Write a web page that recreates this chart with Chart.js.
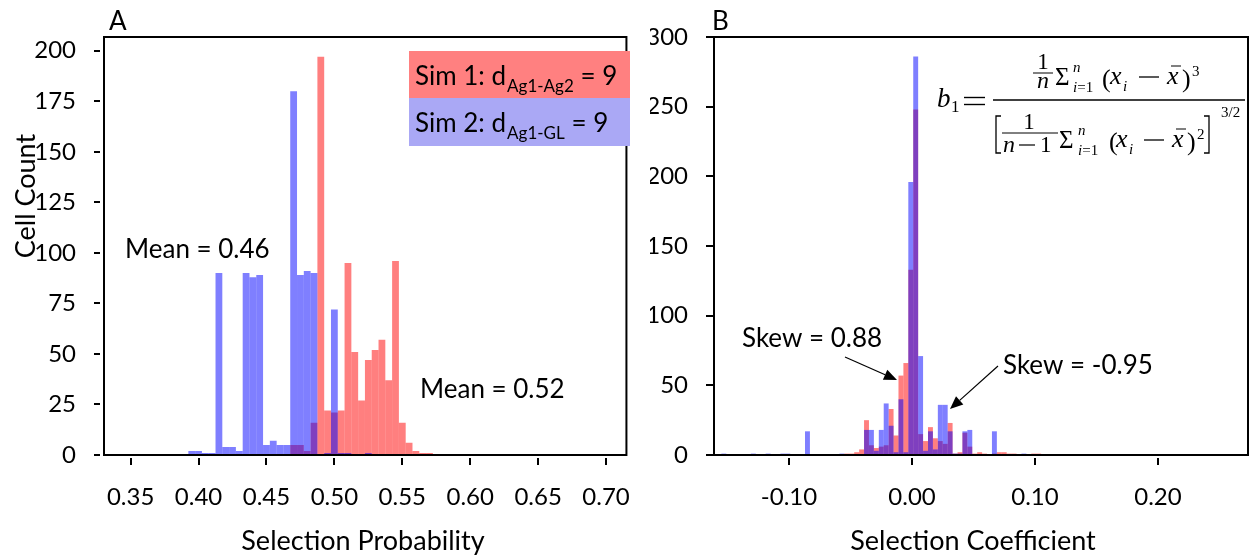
<!DOCTYPE html>
<html>
<head>
<meta charset="utf-8">
<script src="https://cdn.jsdelivr.net/npm/chart.js@4.4.1/dist/chart.umd.min.js"></script>
<style>
  html, body { margin: 0; padding: 0; background: #fff; }
  #wrap { position: relative; width: 1254px; height: 557px; overflow: hidden; }
  #panelA { position: absolute; left: 0; top: 0; }
  #panelB { position: absolute; left: 650px; top: 0; }
</style>
</head>
<body>
<div id="wrap">
  <canvas id="panelA" width="650" height="557"></canvas>
  <canvas id="panelB" width="604" height="557"></canvas>
</div>
<script>
// ---- Panel A: selection probability histograms (bins of 0.005, first bin centred at 0.385)
const probBinStart = 0.385;
const probBinWidth = 0.005;
// Sim 1 (d Ag1-Ag2 = 9), red
const probSim1Counts = [0, 0, 0, 0, 0, 0, 0, 0, 0, 0, 0, 0, 0, 0, 0, 0, 0, 5, 5, 2,
                        16, 197, 22, 21, 22, 95, 51, 27, 47, 52, 57, 37, 96, 16, 6, 2, 1, 1, 0];
// Sim 2 (d Ag1-GL = 9), blue
const probSim2Counts = [0, 0, 2, 2, 1, 1, 90, 4, 4, 2, 90, 88, 89, 5, 7, 5, 5, 180, 89, 91,
                        90, 0, 1, 72, 1, 1, 0, 0, 1, 0, 0, 0, 0, 0, 0, 0, 0, 0, 0];
const probTickStep = 0.05;
const probCountTickStep = 25;

// ---- Panel B: selection coefficient histograms (bins of 0.004, first bin centred at -0.157)
const coefBinStart = -0.157;
const coefBinWidth = 0.004;
const coefSim1Counts = [0, 0, 0, 0, 0, 0, 0, 0, 0, 0, 0, 0, 0, 0, 0, 0, 0, 0, 0, 0,
                        0, 0, 0, 0, 0, 0, 1, 1, 2, 4, 25, 7, 5, 6, 7, 33, 14, 57, 66, 133,
                        248, 15, 10, 20, 12, 10, 8, 23, 1, 2, 16, 6, 1, 2, 1, 0, 1, 2, 2, 1,
                        1, 0, 0, 0, 1, 1, 0];
const coefSim2Counts = [0, 1, 0, 0, 0, 0, 0, 1, 0, 0, 1, 0, 0, 1, 1, 0, 0, 0, 17, 0,
                        0, 0, 0, 0, 0, 1, 0, 0, 0, 0, 18, 18, 3, 18, 37, 21, 2, 40, 2, 196,
                        286, 71, 3, 17, 4, 36, 36, 17, 1, 1, 17, 18, 0, 0, 0, 0, 17, 0, 0, 0,
                        0, 0, 1, 0, 0, 0, 0];
const coefTickStep = 0.1;
const coefCountTickStep = 50;

const SIM1_COLOR = 'rgba(255, 0, 0, 0.5)';
const SIM2_COLOR = 'rgba(0, 0, 255, 0.5)';
const LEGEND_SIM1 = 'rgb(255, 128, 128)';
const LEGEND_SIM2 = 'rgb(170, 168, 245)';
const FONT = 'Lato, "Open Sans", sans-serif';
const MATH = '"Liberation Serif", "DejaVu Serif", serif';

function tickText(v) {
  return Math.abs(v) < 1e-9 ? '0.00' : v.toFixed(2);
}

// Box round the plot area plus the short tick marks that sit just off the axes
function frameAndTicks(yTickFrom, yTickTo) {
  return {
    id: 'frameAndTicks',
    afterDraw(chart) {
      const { ctx, chartArea: a } = chart;
      const xs = chart.scales.x, ys = chart.scales.y;
      ctx.save();
      ctx.strokeStyle = '#000';
      ctx.lineWidth = 2;
      ctx.strokeRect(a.left, a.top, a.right - a.left, a.bottom - a.top);
      ctx.beginPath();
      xs.ticks.forEach(t => {
        const px = Math.round(xs.getPixelForValue(t.value));
        ctx.moveTo(px, a.bottom + 3);
        ctx.lineTo(px, a.bottom + 10);
      });
      ys.ticks.forEach(t => {
        const py = Math.round(ys.getPixelForValue(t.value));
        ctx.moveTo(a.left - yTickFrom, py);
        ctx.lineTo(a.left - yTickTo, py);
      });
      ctx.stroke();
      ctx.restore();
    }
  };
}

function text(ctx, str, x, y, size, opts = {}) {
  ctx.font = (opts.style || '') + ' ' + size + 'px ' + (opts.family || FONT);
  ctx.textAlign = opts.align || 'left';
  ctx.textBaseline = 'alphabetic';
  ctx.fillStyle = '#000';
  ctx.fillText(str, x, y);
  return x + ctx.measureText(str).width;
}

function hline(ctx, x1, x2, y, w) {
  ctx.beginPath();
  ctx.lineWidth = w || 1.2;
  ctx.moveTo(x1, y);
  ctx.lineTo(x2, y);
  ctx.stroke();
}

function arrow(ctx, x1, y1, x2, y2) {
  const ang = Math.atan2(y2 - y1, x2 - x1);
  const len = 13, half = 5.5;
  const bx = x2 - len * Math.cos(ang), by = y2 - len * Math.sin(ang);
  ctx.beginPath();
  ctx.lineWidth = 1.2;
  ctx.moveTo(x1, y1);
  ctx.lineTo(bx, by);
  ctx.stroke();
  ctx.beginPath();
  ctx.moveTo(x2, y2);
  ctx.lineTo(bx + half * Math.sin(ang), by - half * Math.cos(ang));
  ctx.lineTo(bx - half * Math.sin(ang), by + half * Math.cos(ang));
  ctx.closePath();
  ctx.fill();
}

const panelAText = {
  id: 'panelAText',
  afterDraw(chart) {
    const ctx = chart.ctx;
    ctx.save();
    ctx.fillStyle = '#000';
    ctx.strokeStyle = '#000';
    text(ctx, 'A', 109, 30, 26);
    text(ctx, 'Mean = 0.46', 125, 258, 26);
    text(ctx, 'Mean = 0.52', 420, 398, 26);
    // axis titles
    text(ctx, 'Selection Probability', 363, 550, 27, { align: 'center' });
    ctx.save();
    ctx.translate(35, 196);
    ctx.rotate(-Math.PI / 2);
    text(ctx, 'Cell Count', 0, 0, 27, { align: 'center' });
    ctx.restore();
    // legend
    ctx.fillStyle = LEGEND_SIM1;
    ctx.fillRect(409, 51, 221, 47);
    ctx.fillStyle = LEGEND_SIM2;
    ctx.fillRect(409, 98, 221, 48);
    let x = text(ctx, 'Sim 1: d', 415, 85, 26);
    x = text(ctx, 'Ag1-Ag2', x + 1, 92, 17);
    text(ctx, ' = 9', x, 85, 26);
    x = text(ctx, 'Sim 2: d', 415, 132, 26);
    x = text(ctx, 'Ag1-GL', x + 1, 139, 17);
    text(ctx, ' = 9', x, 132, 26);
    ctx.restore();
  }
};

const panelBText = {
  id: 'panelBText',
  afterDraw(chart) {
    const ctx = chart.ctx;
    const o = 650; // canvas offset on the page
    ctx.save();
    ctx.fillStyle = '#000';
    ctx.strokeStyle = '#000';
    text(ctx, 'B', 712 - o, 30, 26);
    text(ctx, 'Selection Coefficient', 973 - o, 550, 27, { align: 'center' });
    text(ctx, 'Skew = 0.88', 742 - o, 347, 26);
    text(ctx, 'Skew = -0.95', 1003 - o, 374, 26);
    arrow(ctx, 845 - o, 357, 897 - o, 380);
    arrow(ctx, 998 - o, 366, 950 - o, 409);

    // skewness formula
    const it = { style: 'italic', family: MATH };
    const up = { family: MATH };
    text(ctx, 'b', 937 - o, 107, 27, it);
    text(ctx, '1', 951 - o, 112, 17, up);
    hline(ctx, 964 - o, 985 - o, 97.5, 1.4);
    hline(ctx, 964 - o, 985 - o, 104.5, 1.4);
    hline(ctx, 993 - o, 1245 - o, 100, 1.3);
    // numerator
    text(ctx, '1', 1043 - o, 69, 23, { family: MATH, align: 'center' });
    hline(ctx, 1033 - o, 1053 - o, 73, 1);
    text(ctx, 'n', 1043 - o, 88, 24, { style: 'italic', family: MATH, align: 'center' });
    text(ctx, '\u03A3', 1055 - o, 85, 25, up);
    text(ctx, 'n', 1073 - o, 72, 15, it);
    let x = text(ctx, 'i', 1073 - o, 92, 15, it);
    text(ctx, '=1', x, 92, 15, up);
    text(ctx, '(', 1102 - o, 87, 26, up);
    text(ctx, 'x', 1110 - o, 84, 26, it);
    text(ctx, 'i', 1123 - o, 91, 15, it);
    hline(ctx, 1139 - o, 1159 - o, 77, 1.3);
    text(ctx, 'x', 1167 - o, 84, 26, it);
    hline(ctx, 1171 - o, 1181 - o, 66, 1);
    text(ctx, ')', 1182 - o, 87, 26, up);
    text(ctx, '3', 1192 - o, 76, 15, up);
    // denominator
    ctx.beginPath();
    ctx.lineWidth = 1.3;
    ctx.moveTo(1001 - o, 116); ctx.lineTo(996 - o, 116); ctx.lineTo(996 - o, 153); ctx.lineTo(1001 - o, 153);
    ctx.moveTo(1204 - o, 116); ctx.lineTo(1209 - o, 116); ctx.lineTo(1209 - o, 153); ctx.lineTo(1204 - o, 153);
    ctx.stroke();
    text(ctx, '1', 1029 - o, 129, 23, { family: MATH, align: 'center' });
    hline(ctx, 1002 - o, 1058 - o, 133, 1);
    text(ctx, 'n', 1003 - o, 152, 24, it);
    hline(ctx, 1019 - o, 1035 - o, 145, 1.2);
    text(ctx, '1', 1040 - o, 152, 23, up);
    text(ctx, '\u03A3', 1059 - o, 148, 25, up);
    text(ctx, 'n', 1078 - o, 135, 15, it);
    x = text(ctx, 'i', 1078 - o, 155, 15, it);
    text(ctx, '=1', x, 155, 15, up);
    text(ctx, '(', 1109 - o, 150, 26, up);
    text(ctx, 'x', 1116 - o, 147, 26, it);
    text(ctx, 'i', 1129 - o, 154, 15, it);
    hline(ctx, 1144 - o, 1164 - o, 140, 1.3);
    text(ctx, 'x', 1172 - o, 147, 26, it);
    hline(ctx, 1176 - o, 1186 - o, 129, 1);
    text(ctx, ')', 1187 - o, 150, 26, up);
    text(ctx, '2', 1197 - o, 139, 15, up);
    text(ctx, '3/2', 1221 - o, 117, 15, up);
    ctx.restore();
  }
};

function makeHistogram(canvasId, cfg) {
  const centers = cfg.sim1.map((_, i) => +(cfg.start + i * cfg.width).toFixed(4));
  const tickFont = { family: FONT, size: 24 };
  return new Chart(document.getElementById(canvasId), {
    type: 'bar',
    data: {
      datasets: [
        { label: 'Sim 2', data: centers.map((x, i) => ({ x, y: cfg.sim2[i] })), backgroundColor: SIM2_COLOR },
        { label: 'Sim 1', data: centers.map((x, i) => ({ x, y: cfg.sim1[i] })), backgroundColor: SIM1_COLOR }
      ]
    },
    options: {
      responsive: false,
      animation: false,
      devicePixelRatio: 1,
      layout: { padding: { left: 0, top: 37, right: 6, bottom: 0 } },
      plugins: { legend: { display: false }, tooltip: { enabled: false } },
      datasets: { bar: { grouped: false, barPercentage: 1, categoryPercentage: 1, borderWidth: 0, inflateAmount: 0 } },
      scales: {
        x: {
          type: 'linear', offset: false, min: cfg.xMin, max: cfg.xMax,
          afterFit: s => { s.height = 102; },
          ticks: { stepSize: cfg.xStep, includeBounds: false, autoSkip: false, maxRotation: 0,
                   callback: tickText, color: '#000', font: tickFont, padding: 20 },
          grid: { display: false, offset: false }, border: { display: false }
        },
        y: {
          type: 'linear', min: 0, max: cfg.yMax,
          afterFit: s => { s.width = cfg.yWidth; },
          ticks: { stepSize: cfg.yStep, includeBounds: false, color: '#000', font: tickFont, padding: cfg.yPad },
          grid: { display: false }, border: { display: false }
        }
      }
    },
    plugins: [frameAndTicks(cfg.tickFrom, cfg.tickTo), cfg.textPlugin]
  });
}

makeHistogram('panelA', {
  start: probBinStart, width: probBinWidth, sim1: probSim1Counts, sim2: probSim2Counts,
  xMin: 0.3304, xMax: 0.715, xStep: probTickStep, yMax: 206.8, yStep: probCountTickStep,
  yWidth: 104, yPad: 20, tickFrom: 10, tickTo: 4, textPlugin: panelAText
});

makeHistogram('panelB', {
  start: coefBinStart, width: coefBinWidth, sim1: coefSim1Counts, sim2: coefSim2Counts,
  xMin: -0.161, xMax: 0.2732, xStep: coefTickStep, yMax: 300, yStep: coefCountTickStep,
  yWidth: 64, yPad: 18, tickFrom: 8, tickTo: 1, textPlugin: panelBText
});
</script>
</body>
</html>
